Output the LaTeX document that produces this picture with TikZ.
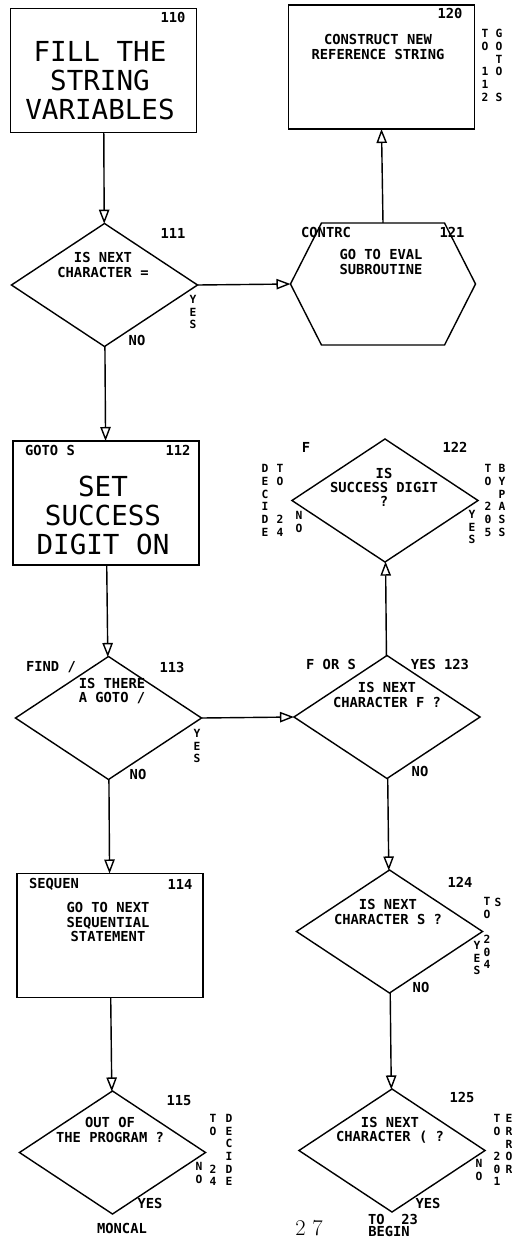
\documentclass[tikz,border=0pt]{standalone}
\usepackage{fontspec}
\setmonofont{DejaVu Sans Mono}
\usetikzlibrary{positioning, arrows.meta, shapes.geometric}

\begin{document}
\begin{tikzpicture}[
  x=0.025cm, y=-0.025cm,
  font=\ttfamily\bfseries\fontsize{9.8}{10}\selectfont,
  >={Triangle[open, length=3.5mm, width=2.6mm]},
  line width=1pt,
  procbox/.style={rectangle, draw, minimum width=46.5mm, minimum height=31mm, inner sep=0pt, outer sep=0pt},
  decision/.style={diamond, draw, minimum width=46.5mm, minimum height=30.75mm, inner sep=0pt, outer sep=0pt},
  subr/.style={rectangle, minimum width=46.25mm, minimum height=30.5mm, inner sep=0pt, outer sep=0pt},
  qtext/.style={align=center, inner sep=0pt},
  bigtext/.style={align=center, inner sep=0pt, font=\ttfamily\fontsize{19.6}{20.6}\selectfont},
  tag/.style={inner sep=0pt},
  vtag/.style={align=center, inner sep=0pt, font=\ttfamily\bfseries\fontsize{8}{9}\selectfont},
  flow/.style={->},
]
\useasboundingbox (0,0) rectangle (512,1238);

% ===== Left column =========================================================
\node[procbox] (b110) at (103.5,70.5) {};
\node[bigtext] (t110) at (100,81) {FILL THE\\STRING\\VARIABLES};
\node[tag] (n110) at (173,17) {110};

\node[decision] (d111) at (104.5,285) {};
\node[qtext] (t111) at (103,265) {IS NEXT\\CHARACTER =};
\node[tag] (n111) at (173,233) {111};
\node[vtag] (y111) at (193,312) {Y\\E\\S};
\node[tag] (o111) at (137,340) {NO};

\node[procbox] (b112) at (106,503) {};
\node[bigtext] (t112) at (103,515) {SET\\SUCCESS\\DIGIT ON};
\node[tag] (g112) at (50,450) {GOTO S};
\node[tag] (n112) at (178,450) {112};

\node[decision] (d113) at (108.5,718) {};
\node[qtext] (t113) at (112,691) {IS THERE\\A GOTO /};
\node[tag] (f113) at (51,667) {FIND /};
\node[tag] (n113) at (172,667) {113};
\node[vtag] (y113) at (197,746) {Y\\E\\S};
\node[tag] (o113) at (138,774) {NO};

\node[procbox] (b114) at (110,935.5) {};
\node[qtext] (t114) at (108,922) {GO TO NEXT\\SEQUENTIAL\\STATEMENT};
\node[tag] (s114) at (54,884) {SEQUEN};
\node[tag] (n114) at (180,884) {114};

\node[decision] (d115) at (112.5,1152.5) {};
\node[qtext] (t115) at (110,1130) {OUT OF\\THE PROGRAM ?};
\node[tag] (n115) at (179,1101) {115};
\node[tag] (y115) at (150,1203) {YES};
\node[tag] (m115) at (122,1228) {MONCAL};
\node[vtag] (o115) at (199,1173) {N\\O};
\node[vtag] (to115) at (213,1150) {T\\O\\~\\~\\2\\4};
\node[vtag] (dc115) at (229,1150) {D\\E\\C\\I\\D\\E};

% ===== Right column ========================================================
\node[procbox] (b120) at (381.5,67) {};
\node[qtext] (t120) at (378,47) {CONSTRUCT NEW\\REFERENCE STRING};
\node[tag] (n120) at (450,13) {120};
\node[vtag] (to120) at (485,65.5) {T\\O\\~\\1\\1\\2};
\node[vtag] (gt120) at (499,65.5) {G\\O\\T\\O\\~\\S};

\node[subr] (h121) at (383,284) {};
\draw ([xshift=7.75mm]h121.north west) -- ([xshift=-7.75mm]h121.north east) -- (h121.east)
  -- ([xshift=-7.75mm]h121.south east) -- ([xshift=7.75mm]h121.south west) -- (h121.west) -- cycle;
\node[qtext] (t121) at (381,262) {GO TO EVAL\\SUBROUTINE};
\node[tag] (c121) at (326,232) {CONTRC};
\node[tag] (n121) at (452,232) {121};

\node[decision] (d122) at (385,500.5) {};
\node[qtext] (t122) at (384,487) {IS\\SUCCESS DIGIT\\?};
\node[tag] (f122) at (306,447) {F};
\node[tag] (n122) at (455,447) {122};
\node[vtag] (dc122) at (265,500.5) {D\\E\\C\\I\\D\\E};
\node[vtag] (to122) at (280,500.5) {T\\O\\~\\~\\2\\4};
\node[vtag] (o122) at (299,522) {N\\O};
\node[vtag] (y122) at (472,527) {Y\\E\\S};
\node[vtag] (tb122) at (488,500.5) {T\\O\\~\\2\\0\\5};
\node[vtag] (bp122) at (502,500.5) {B\\Y\\P\\A\\S\\S};

\node[decision] (d123) at (387,717) {};
\node[qtext] (t123) at (387,695) {IS NEXT\\CHARACTER F ?};
\node[tag] (f123) at (331,664) {F OR S};
\node[tag] (n123) at (440,664) {YES 123};
\node[tag] (o123) at (420,771) {NO};

\node[decision] (d124) at (389.5,931.5) {};
\node[qtext] (t124) at (388,912) {IS NEXT\\CHARACTER S ?};
\node[tag] (n124) at (460,882) {124};
\node[vtag] (to124) at (487,933) {T\\O\\~\\2\\0\\4};
\node[vtag] (s124) at (498,902) {S};
\node[vtag] (y124) at (477,958) {Y\\E\\S};
\node[tag] (o124) at (421,987) {NO};

\node[decision] (d125) at (392,1150.5) {};
\node[qtext] (t125) at (390,1130) {IS NEXT\\CHARACTER ( ?};
\node[tag] (n125) at (462,1097) {125};
\node[vtag] (o125) at (479,1170) {N\\O};
\node[vtag] (to125) at (497,1150) {T\\O\\~\\2\\0\\1};
\node[vtag] (er125) at (509,1144) {E\\R\\R\\O\\R};
\node[tag] (y125) at (428,1203) {YES};
\node[tag] (g125) at (393,1219) {TO~~23};
\node[tag] (b125) at (389,1231) {BEGIN};

\node[tag, font=\rmfamily\fontsize{16}{16}\selectfont] (page) at (309,1228) {2~7};

% ===== connectors ==========================================================
\draw[flow] (b110) -- (d111);
\draw[flow] (d111.east) -- (h121.west);
\draw[flow] (h121.north) -- (b120.south);
\draw[flow] (d111) -- (b112);
\draw[flow] (b112) -- (d113);
\draw[flow] (d113.east) -- (d123.west);
\draw[flow] (d123) -- (d122);
\draw[flow] (d113) -- (b114);
\draw[flow] (d123) -- (d124);
\draw[flow] (b114) -- (d115);
\draw[flow] (d124) -- (d125);

\end{tikzpicture}
\end{document}
